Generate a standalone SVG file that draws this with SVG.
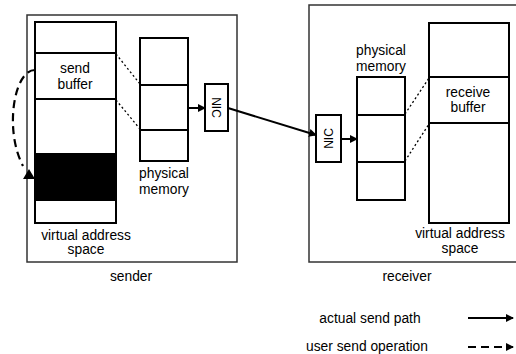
<svg xmlns="http://www.w3.org/2000/svg" width="516" height="354" viewBox="0 0 516 354">
<style>
text{font-family:"Liberation Sans",Arial,sans-serif;font-size:13.8px;fill:#000;text-anchor:middle}
.frame{fill:none;stroke:#333;stroke-width:1.5}
.box{fill:#fff;stroke:#000;stroke-width:2}
.div{stroke:#000;stroke-width:2}
.dot{stroke:#000;stroke-width:1.3;stroke-dasharray:2 2.5;fill:none}
.path{stroke:#000;stroke-width:2;fill:none}
.dash{stroke:#000;stroke-width:2.2;fill:none;stroke-dasharray:8 5}
</style>
<defs>
<marker id="ah" markerWidth="8" markerHeight="8" refX="7" refY="4" orient="auto" markerUnits="userSpaceOnUse">
<path d="M0,0 L8,4 L0,8 z" fill="#000"/>
</marker>
</defs>
<g id="sender">
<rect class="frame" x="27" y="15" width="210" height="247"/>
<text x="131" y="281">sender</text>
</g>
<g id="receiver">
<rect class="frame" x="309" y="5" width="220" height="257"/>
<text x="407" y="281">receiver</text>
</g>
<g id="sender-vas">
<rect class="box" x="35" y="22" width="81" height="201"/>
<rect x="35" y="153" width="81" height="48" fill="#000"/>
<line class="div" x1="35" y1="53" x2="116" y2="53"/>
<line class="div" x1="35" y1="99" x2="116" y2="99"/>
<text x="75" y="73">send</text>
<text x="75" y="89">buffer</text>
<text x="86" y="240">virtual address</text>
<text x="86" y="254">space</text>
</g>
<g id="sender-pm">
<rect class="box" x="140" y="38" width="48" height="123"/>
<line class="div" x1="140" y1="85" x2="188" y2="85"/>
<line class="div" x1="140" y1="130" x2="188" y2="130"/>
<text x="164" y="178">physical</text>
<text x="164" y="194">memory</text>
</g>
<g id="sender-nic">
<rect class="box" x="205" y="84" width="23" height="47"/>
<text transform="translate(216.5,107.5) rotate(90)" y="4.5" style="font-size:12px">NIC</text>
</g>
<g id="receiver-nic">
<rect class="box" x="316" y="115" width="25" height="47"/>
<text transform="translate(328.5,138.5) rotate(-90)" y="4.5" style="font-size:12px">NIC</text>
</g>
<g id="receiver-pm">
<rect class="box" x="357" y="77" width="48" height="123"/>
<line class="div" x1="357" y1="115" x2="405" y2="115"/>
<line class="div" x1="357" y1="162" x2="405" y2="162"/>
<text x="381" y="55">physical</text>
<text x="381" y="71">memory</text>
</g>
<g id="receiver-vas">
<rect class="box" x="429" y="23" width="80" height="200"/>
<line class="div" x1="429" y1="77" x2="509" y2="77"/>
<line class="div" x1="429" y1="123" x2="509" y2="123"/>
<text x="468" y="97">receive</text>
<text x="468" y="112">buffer</text>
<text x="460" y="238">virtual address</text>
<text x="460" y="253">space</text>
</g>
<g id="connectors">
<line class="dot" x1="116" y1="54" x2="140" y2="84"/>
<line class="dot" x1="116" y1="100" x2="140" y2="129"/>
<line class="dot" x1="405" y1="114" x2="429" y2="78"/>
<line class="dot" x1="405" y1="161" x2="429" y2="124"/>
<line class="path" x1="188" y1="108" x2="205" y2="108" marker-end="url(#ah)"/>
<line class="path" x1="228" y1="108" x2="316" y2="135" marker-end="url(#ah)"/>
<line class="path" x1="341" y1="139" x2="357" y2="139" marker-end="url(#ah)"/>
<path class="dash" d="M35 70 C14 70 4 130 23 166"/>
<path d="M29 169 L23 179 L35 179 z" fill="#000"/>
</g>
<g id="legend">
<text x="370" y="323">actual send path</text>
<line class="path" x1="468" y1="318" x2="513" y2="318" marker-end="url(#ah)"/>
<text x="367" y="351">user send operation</text>
<line class="dash" x1="468" y1="347" x2="513" y2="347" stroke-dasharray="9 5" marker-end="url(#ah)"/>
</g>
</svg>
